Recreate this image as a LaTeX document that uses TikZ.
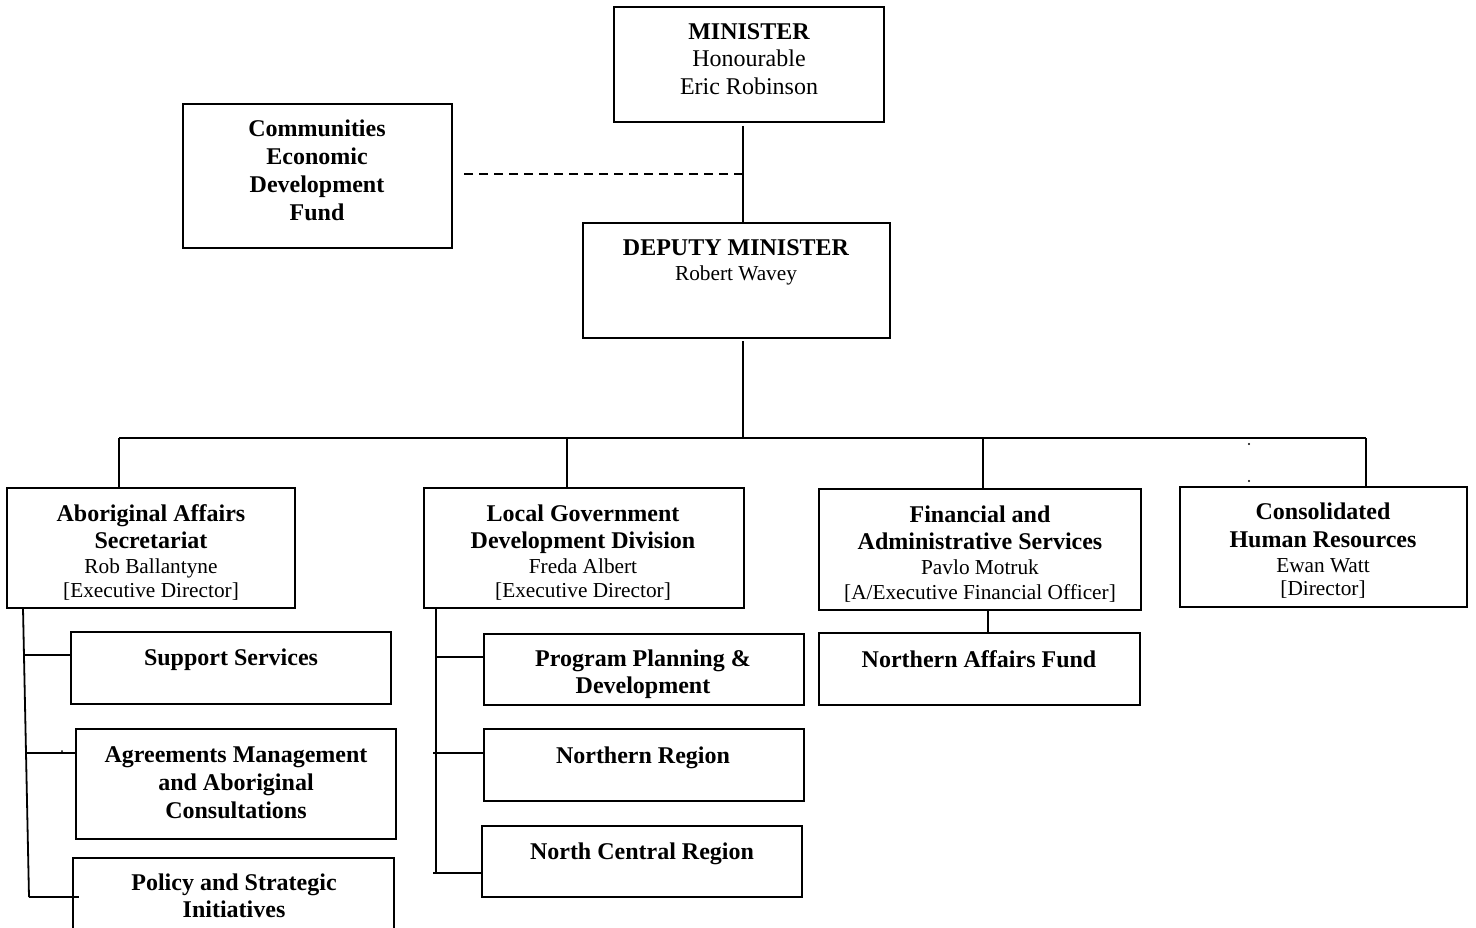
\documentclass[tikz,border=0pt]{standalone}
\usepackage{fontspec}
\setmainfont{Liberation Serif}
\begin{document}
\begin{tikzpicture}[x=1pt,y=-1pt,
  box/.style={draw, line width=2pt, rectangle, inner sep=0pt, outer sep=0pt},
  bt/.style={anchor=base, inner sep=0pt, font=\fontsize{24}{28}\selectfont\bfseries},
  nt/.style={anchor=base, inner sep=0pt, font=\fontsize{21.3}{26}\selectfont},
  mt/.style={anchor=base, inner sep=0pt, font=\fontsize{24}{28}\selectfont},
  ln/.style={line width=1.8pt},
  dotmark/.style={fill=black}]
\useasboundingbox (0,0) rectangle (1476,928);

% ---------- boxes ----------
\node[box, minimum width=270pt, minimum height=115pt] (min)  at (749,64.5) {};
\node[box, minimum width=269pt, minimum height=144pt] (cedf) at (317.5,176) {};
\node[box, minimum width=307pt, minimum height=115pt] (dep)  at (736.5,280.5) {};
\node[box, minimum width=288pt, minimum height=120pt] (aas)  at (151,548) {};
\node[box, minimum width=320pt, minimum height=120pt] (lgdd) at (584,548) {};
\node[box, minimum width=322pt, minimum height=121pt] (fas)  at (980,549.5) {};
\node[box, minimum width=287pt, minimum height=120pt] (chr)  at (1323.5,547) {};
\node[box, minimum width=320pt, minimum height=72pt]  (ss)   at (231,668) {};
\node[box, minimum width=320pt, minimum height=110pt] (am)   at (236,784) {};
\node[box, minimum width=321pt, minimum height=82pt]  (ps)   at (233.5,899) {};
\node[box, minimum width=320pt, minimum height=71pt]  (ppd)  at (644,669.5) {};
\node[box, minimum width=320pt, minimum height=72pt]  (nr)   at (644,765) {};
\node[box, minimum width=320pt, minimum height=71pt]  (ncr)  at (642,861.5) {};
\node[box, minimum width=321pt, minimum height=72pt]  (naf)  at (979.5,669) {};

% ---------- texts ----------
\node[bt] (minA) at (749,40) {MINISTER};
\node[mt] (minB) at (749,67) {Honourable};
\node[mt] (minC) at (749,95) {Eric Robinson};

\node[bt] (cedfA) at (317,137) {Communities};
\node[bt] (cedfB) at (317,165) {Economic};
\node[bt] (cedfC) at (317,193) {Development};
\node[bt] (cedfD) at (317,221) {Fund};

\node[bt] (depA) at (736,256) {DEPUTY MINISTER};
\node[nt] (depB) at (736,280) {Robert Wavey};

\node[bt] (aasA) at (151,521) {Aboriginal Affairs};
\node[bt] (aasB) at (151,548) {Secretariat};
\node[nt] (aasC) at (151,573) {Rob Ballantyne};
\node[nt] (aasD) at (151,597) {[Executive Director]};

\node[bt] (lgddA) at (583,521) {Local Government};
\node[bt] (lgddB) at (583,548) {Development Division};
\node[nt] (lgddC) at (583,573) {Freda Albert};
\node[nt] (lgddD) at (583,597) {[Executive Director]};

\node[bt] (fasA) at (980,522) {Financial and};
\node[bt] (fasB) at (980,549) {Administrative Services};
\node[nt] (fasC) at (980,574) {Pavlo Motruk};
\node[nt] (fasD) at (980,599) {[A/Executive Financial Officer]};

\node[bt] (chrA) at (1323,519) {Consolidated};
\node[bt] (chrB) at (1323,547) {Human Resources};
\node[nt] (chrC) at (1323,572) {Ewan Watt};
\node[nt] (chrD) at (1323,595) {[Director]};

\node[bt] (ssA) at (231,665) {Support Services};
\node[bt] (amA) at (236,762) {Agreements Management};
\node[bt] (amB) at (236,790) {and Aboriginal};
\node[bt] (amC) at (236,818) {Consultations};
\node[bt] (psA) at (234,890) {Policy and Strategic};
\node[bt] (psB) at (234,917) {Initiatives};

\node[bt] (ppdA) at (643,666) {Program Planning \&};
\node[bt] (ppdB) at (643,693) {Development};
\node[bt] (nrA)  at (643,763) {Northern Region};
\node[bt] (ncrA) at (642,859) {North Central Region};
\node[bt] (nafA) at (979,667) {Northern Affairs Fund};

% ---------- connector coordinates ----------
\coordinate (j1) at (743,174);
\coordinate (bar) at (743,438);
\coordinate (b1) at (119,438);
\coordinate (b2) at (567,438);
\coordinate (b3) at (983,438);
\coordinate (b4) at (1366,438);
\coordinate (aT) at (23,608);
\coordinate (aB) at (29,897);
\coordinate (a1) at (23.5,655);
\coordinate (a2) at (26,753);
\coordinate (a3e) at (79,897);
\coordinate (lT) at (436,608);
\coordinate (lB) at (436,873);
\coordinate (l1) at (436,657);
\coordinate (l2) at (433,753);
\coordinate (l3) at (433,873);
\coordinate (fx) at (988,620);

% ---------- connectors ----------
\draw[ln, line width=1.5pt, shorten <=4pt] (min.south -| j1) -- (dep.north -| j1);
\draw[ln, line width=1.5pt, dash pattern=on 9pt off 6pt, shorten >=8pt] (j1) -- (cedf.east |- j1);
\draw[ln, shorten <=3pt] (dep.south -| bar) -- (bar);
\draw[ln] (b1) -- (b4);
\draw[ln] (b1) -- (aas.north -| b1);
\draw[ln] (b2) -- (lgdd.north -| b2);
\draw[ln] (b3) -- (fas.north -| b3);
\draw[ln] (b4) -- (chr.north -| b4);

\draw[ln] (aT) -- (aB);
\draw[ln] (a1) -- (a1 -| ss.west);
\draw[ln] (a2) -- (a2 -| am.west);
\draw[ln] (aB) -- (a3e);

\draw[ln] (lT) -- (lB);
\draw[ln] (l1) -- (l1 -| ppd.west);
\draw[ln] (l2) -- (l2 -| nr.west);
\draw[ln] (l3) -- (l3 -| ncr.west);

\draw[ln] (fas.south -| fx) -- (naf.north -| fx);

% small stray dots
\fill[dotmark] (1249,444) circle (1.1pt);
\fill[dotmark] (1249,481) circle (1.1pt);
\fill[dotmark] (62,751) circle (1pt);
\end{tikzpicture}
\end{document}
